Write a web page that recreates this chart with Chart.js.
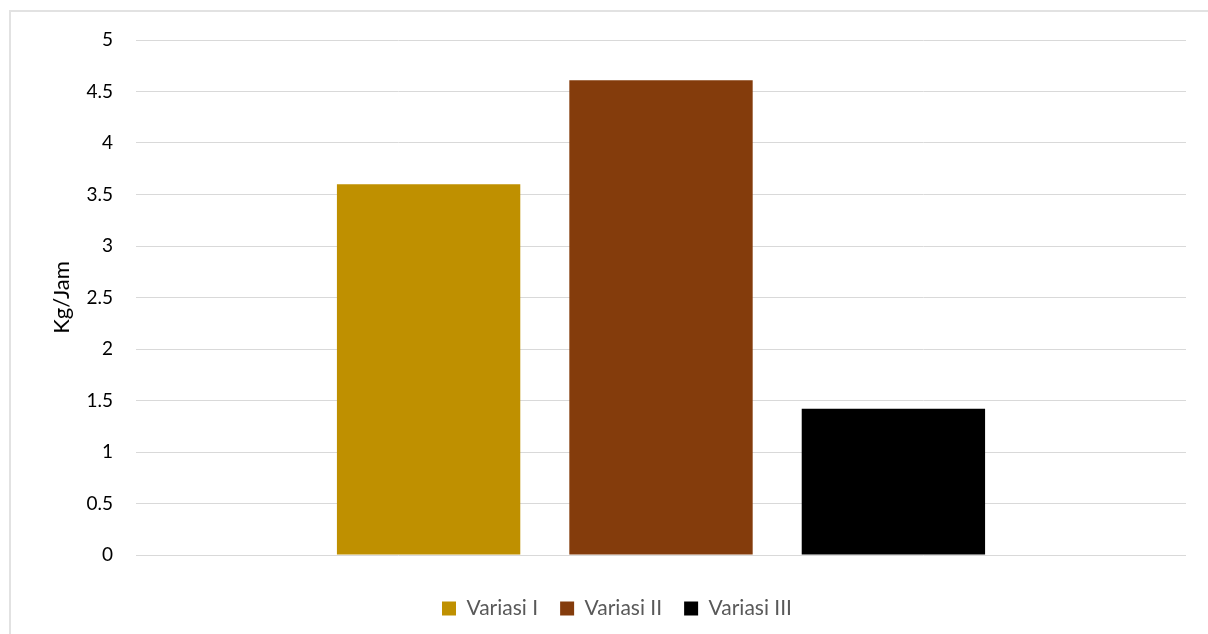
<!DOCTYPE html>
<html>
<head>
<meta charset="utf-8">
<script src="https://cdn.jsdelivr.net/npm/chart.js@4"></script>
<style>
  html, body { margin: 0; padding: 0; background: #fff; }
  #wrap { position: relative; width: 1208px; height: 634px; }
  #frame {
    position: absolute; left: 9px; top: 10px; width: 1210px; height: 640px;
    border: 2px solid #e2e2e2; box-sizing: border-box; pointer-events: none;
  }
</style>
</head>
<body>
<div id="wrap">
  <canvas id="chart" width="1208" height="634"></canvas>
  <div id="frame"></div>
</div>
<script>
// data
const categories = [""];
const seriesNames = ["Variasi I", "Variasi II", "Variasi III"];
const seriesValues = [[3.6], [4.61], [1.42]];
const seriesColors = ["#BF9000", "#843C0C", "#000000"];
const yTitle = "Kg/Jam";

const FONT = "Lato, Carlito, Calibri, 'Noto Sans', sans-serif";

const ctx = document.getElementById("chart").getContext("2d");
const chart = new Chart(ctx, {
  type: "bar",
  data: {
    labels: categories,
    datasets: seriesNames.map((name, i) => ({
      label: name,
      data: seriesValues[i],
      backgroundColor: seriesColors[i],
      borderWidth: 0,
      categoryPercentage: 0.664,
      barPercentage: 0.789,
    })),
  },
  options: {
    responsive: false,
    animation: false,
    // left padding shifts the legend centre to where the original sits
    layout: { padding: { top: 40, right: 22, bottom: 5, left: 48 } },
    plugins: {
      tooltip: { enabled: false },
      legend: {
        position: "bottom",
        labels: {
          font: { family: FONT, size: 21 },
          color: "#595959",
          boxWidth: 14,
          boxHeight: 14,
          padding: 22,
        },
      },
    },
    scales: {
      x: {
        grid: { display: false },
        border: { display: false },
        ticks: { display: false },
        afterFit: (s) => { s.height = 21; },
      },
      y: {
        min: 0,
        max: 5,
        grid: { color: "#d9d9d9", lineWidth: 1, drawTicks: false },
        border: { display: false },
        ticks: {
          stepSize: 0.5,
          padding: 23,
          color: "#000",
          font: { family: FONT, size: 19 },
          callback: (v) => String(v),
        },
        title: {
          display: true,
          text: yTitle,
          color: "#000",
          font: { family: FONT, size: 22 },
          padding: { top: 1, bottom: 0 },
        },
        afterFit: (s) => { s.width = 88; },
      },
    },
  },
});
</script>
</body>
</html>
